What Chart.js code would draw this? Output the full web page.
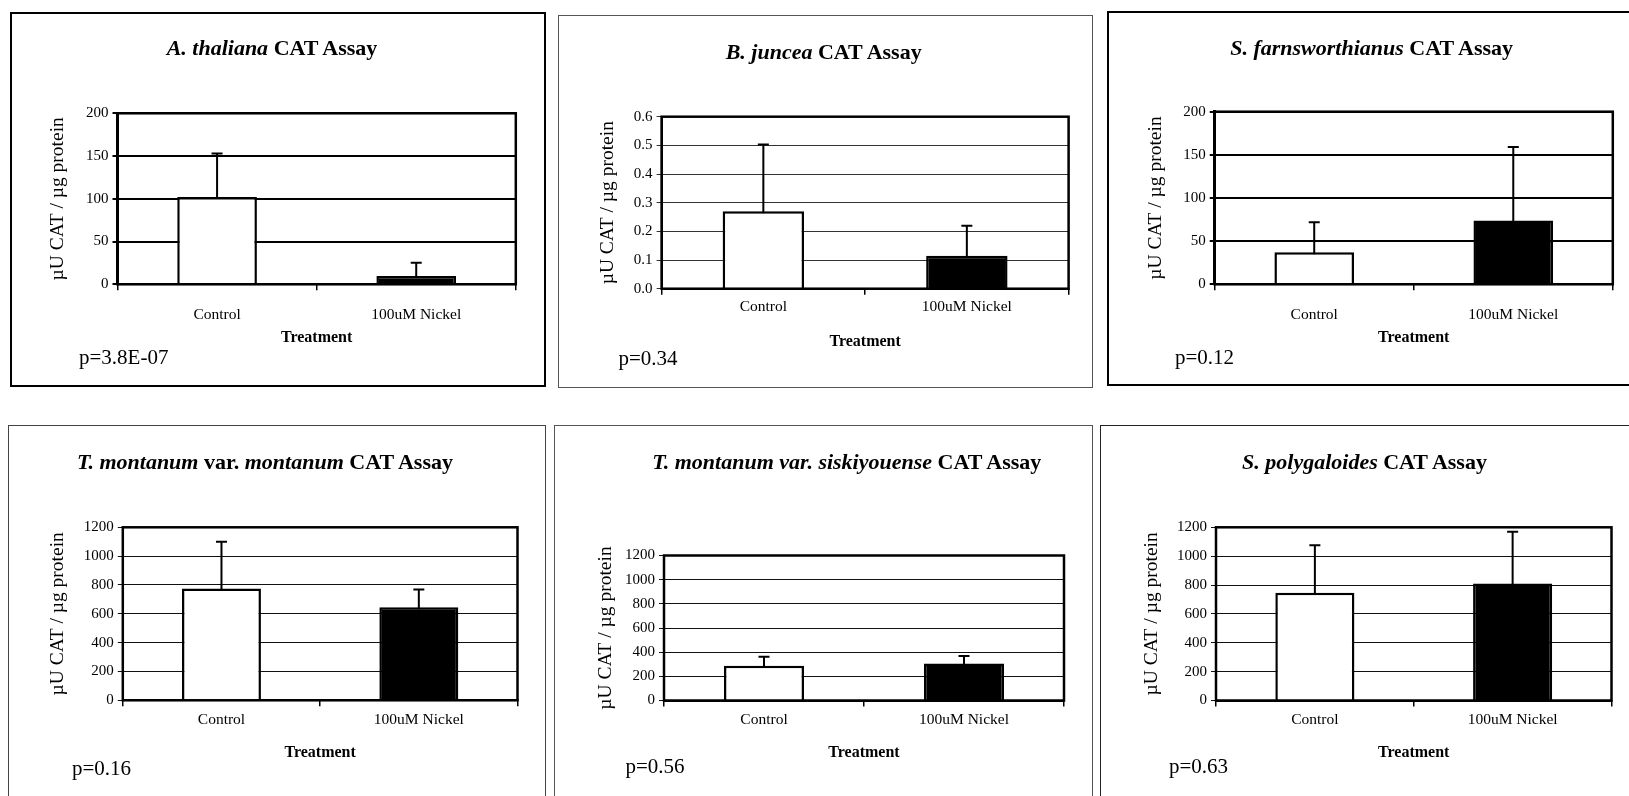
<!DOCTYPE html>
<html><head><meta charset="utf-8">
<script src="https://cdn.jsdelivr.net/npm/chart.js@4.4.1/dist/chart.umd.min.js"></script>
<style>
html,body{margin:0;padding:0;background:#fff;width:1629px;height:796px;overflow:hidden;position:relative;font-family:'Liberation Serif','Times New Roman',serif;}
.box{position:absolute;box-sizing:border-box;background:#fff;}
.title{position:absolute;width:800px;text-align:center;font-size:22px;font-weight:bold;line-height:26px;white-space:nowrap;color:#000;}
.pval{position:absolute;font-size:21px;line-height:26px;white-space:nowrap;color:#000;}
canvas{position:absolute;}
</style></head><body>
<script>
// ---------------- data ----------------
const categories = ['Control', '100uM Nickel'];
const titleParts = [
  [['A. thaliana', true], [' CAT Assay', false]],
  [['B. juncea', true], [' CAT Assay', false]],
  [['S. farnsworthianus', true], [' CAT Assay', false]],
  [['T. montanum', true], [' var. ', false], ['montanum', true], [' CAT Assay', false]],
  [['T. montanum var. siskiyouense', true], [' CAT Assay', false]],
  [['S. polygaloides', true], [' CAT Assay', false]]
];
const controlMeans  = [102, 0.27, 37, 775, 288, 746];
const controlErrors = [51, 0.233, 35, 324, 75, 329];
const nickelMeans   = [9.7, 0.115, 74, 646, 307, 811];
const nickelErrors  = [15.6, 0.105, 85, 123, 61, 359];
const pLabels = ['p=3.8E-07', 'p=0.34', 'p=0.12', 'p=0.16', 'p=0.56', 'p=0.63'];
const yMax = [200, 0.6, 200, 1200, 1200, 1200];
const yStep = [50, 0.1, 50, 200, 200, 200];
const yDecimals = [0, 1, 0, 0, 0, 0];
const xAxisTitle = 'Treatment';
const yAxisTitle = 'µU CAT / µg protein';

// ---------------- layout (page pixels) ----------------
const layout = [
  {box:[10,12,546,387],  border:'2px solid #000', bw:2,   plot:[117.5,113.3,515.8,284.3], title:[272,48],     yTitleX:58,    catY:315, xTitleY:338,   p:[79,357],    grid:2, gridColor:'#000', axisW:3},
  {box:[557.5,15,1092.5,387.5], border:'1.5px solid #555', bw:1.5, plot:[661.6,116.7,1068.6,288.7], title:[823.7,51.7], yTitleX:608, catY:307, xTitleY:341.7, p:[618.4,358], grid:1, gridColor:'#333', axisW:2},
  {box:[1107,11,1680,386], border:'2px solid #000', bw:2,   plot:[1214.7,111.7,1612.8,284.3], title:[1371.6,48], yTitleX:1155.7, catY:315, xTitleY:338, p:[1175,357],   grid:2, gridColor:'#000', axisW:3},
  {box:[7.5,425,545.5,830], border:'1.5px solid #444', bw:1.5, plot:[122.8,527.3,517.5,700.3], title:[265,461.7], yTitleX:58, catY:720, xTitleY:752.7, p:[72,768],  grid:1, gridColor:'#111', axisW:2},
  {box:[554,425,1092.5,830], border:'1.5px solid #555', bw:1.5, plot:[664,555.5,1064,700.5], title:[846.8,461.7], yTitleX:605.4, catY:720, xTitleY:752.7, p:[625.4,766], grid:1, gridColor:'#111', axisW:2},
  {box:[1100,425,1680,830], border:'1.5px solid #222', bw:1.5, plot:[1216,527.3,1611.5,700.5], title:[1364.5,461.7], yTitleX:1152, catY:720, xTitleY:752.7, p:[1169,766], grid:1, gridColor:'#111', axisW:2}
];

const FAMILY = "'Liberation Serif','Times New Roman',serif";
const TICK_SIZE = 15, CAT_SIZE = 15.5, YT_SIZE = 19.5, XT_SIZE = 16;

const errorBarPlugin = {
  id: 'errorBars',
  afterDatasetsDraw(chart) {
    const ctx = chart.ctx, y = chart.scales.y;
    const meta = chart.getDatasetMeta(0);
    const ds = chart.data.datasets[0];
    ctx.save();
    ctx.strokeStyle = '#000';
    ctx.lineWidth = 2;
    meta.data.forEach((bar, i) => {
      const v = ds.data[i], e = ds.errors[i];
      const yTop = y.getPixelForValue(v + e);
      const yBase = y.getPixelForValue(v);
      ctx.beginPath();
      ctx.moveTo(bar.x, yBase + 2);
      ctx.lineTo(bar.x, yTop);
      ctx.moveTo(bar.x - 5.5, yTop);
      ctx.lineTo(bar.x + 5.5, yTop);
      ctx.stroke();
    });
    ctx.restore();
  }
};
const framePlugin = {
  id: 'frame',
  afterDraw(chart) {
    const ctx = chart.ctx, a = chart.chartArea;
    ctx.save();
    ctx.strokeStyle = '#000';
    ctx.lineWidth = 2.5;
    ctx.strokeRect(a.left, a.top, a.right - a.left, a.bottom - a.top);
    ctx.restore();
  }
};

layout.forEach((L, i) => {
  const box = document.createElement('div');
  box.className = 'box';
  box.style.left = L.box[0] + 'px';
  box.style.top = L.box[1] + 'px';
  box.style.width = (L.box[2] - L.box[0]) + 'px';
  box.style.height = (L.box[3] - L.box[1]) + 'px';
  box.style.border = L.border;
  document.body.appendChild(box);

  const cl = Math.round(L.box[0] + L.bw), ct = Math.round(L.box[1] + L.bw);
  const cr = Math.min(Math.round(L.box[2] - L.bw), 1629), cb = Math.min(Math.round(L.box[3] - L.bw), 796);
  const cv = document.createElement('canvas');
  cv.width = cr - cl; cv.height = cb - ct;
  cv.style.left = cl + 'px'; cv.style.top = ct + 'px';
  cv.style.width = (cr - cl) + 'px'; cv.style.height = (cb - ct) + 'px';
  document.body.appendChild(cv);

  const ytLH = YT_SIZE * 1.2, xtLH = XT_SIZE * 1.2, catLH = CAT_SIZE * 1.2;
  const yAxisLeft = L.yTitleX - ytLH / 2;
  const yW = L.plot[0] - yAxisLeft;
  const xAxisBottom = L.xTitleY + xtLH / 2;
  const xH = xAxisBottom - L.plot[3];
  const tickLen = 6;
  const catPad = L.catY - L.plot[3] - tickLen - catLH / 2;

  new Chart(cv, {
    type: 'bar',
    data: {
      labels: categories,
      datasets: [{
        data: [controlMeans[i], nickelMeans[i]],
        errors: [controlErrors[i], nickelErrors[i]],
        backgroundColor: ['#ffffff', '#000000'],
        borderColor: '#000000',
        borderWidth: 2.5,
        borderSkipped: 'start',
        barPercentage: 0.4,
        categoryPercentage: 1.0
      }]
    },
    options: {
      responsive: false,
      animation: false,
      devicePixelRatio: 1,
      layout: {
        padding: {
          left: yAxisLeft - cl,
          top: L.plot[1] - ct,
          right: cr - L.plot[2],
          bottom: cb - xAxisBottom
        }
      },
      plugins: { legend: { display: false }, tooltip: { enabled: false }, title: { display: false } },
      scales: {
        x: {
          offset: true,
          ticks: { font: { family: FAMILY, size: CAT_SIZE }, color: '#000', padding: catPad, maxRotation: 0 },
          grid: { display: true, drawOnChartArea: false, drawTicks: true, tickLength: tickLen, color: '#000', lineWidth: 1.5, offset: true },
          border: { display: true, color: '#000', width: 2 },
          title: { display: true, text: xAxisTitle, font: { family: FAMILY, size: XT_SIZE, weight: 'bold' }, color: '#000', padding: 0 },
          afterFit(scale) { scale.height = xH; }
        },
        y: {
          min: 0, max: yMax[i],
          ticks: {
            stepSize: yStep[i],
            callback: (v) => Number(v).toFixed(yDecimals[i]),
            font: { family: FAMILY, size: TICK_SIZE }, color: '#000', padding: 4
          },
          grid: { color: L.gridColor, lineWidth: L.grid, tickLength: 5, drawTicks: true },
          border: { display: true, color: '#000', width: L.axisW },
          title: { display: true, text: yAxisTitle, font: { family: FAMILY, size: YT_SIZE }, color: '#000', padding: 0 },
          afterFit(scale) { scale.width = yW; }
        }
      }
    },
    plugins: [errorBarPlugin, framePlugin]
  });

  const t = document.createElement('div');
  t.className = 'title';
  t.style.left = (L.title[0] - 400) + 'px';
  t.style.top = (L.title[1] - 13) + 'px';
  titleParts[i].forEach(([txt, it]) => {
    const s = document.createElement('span');
    s.textContent = txt;
    if (it) s.style.fontStyle = 'italic';
    t.appendChild(s);
  });
  document.body.appendChild(t);

  const p = document.createElement('div');
  p.className = 'pval';
  p.style.left = L.p[0] + 'px';
  p.style.top = (L.p[1] - 13) + 'px';
  p.textContent = pLabels[i];
  document.body.appendChild(p);
});
</script>
</body></html>
